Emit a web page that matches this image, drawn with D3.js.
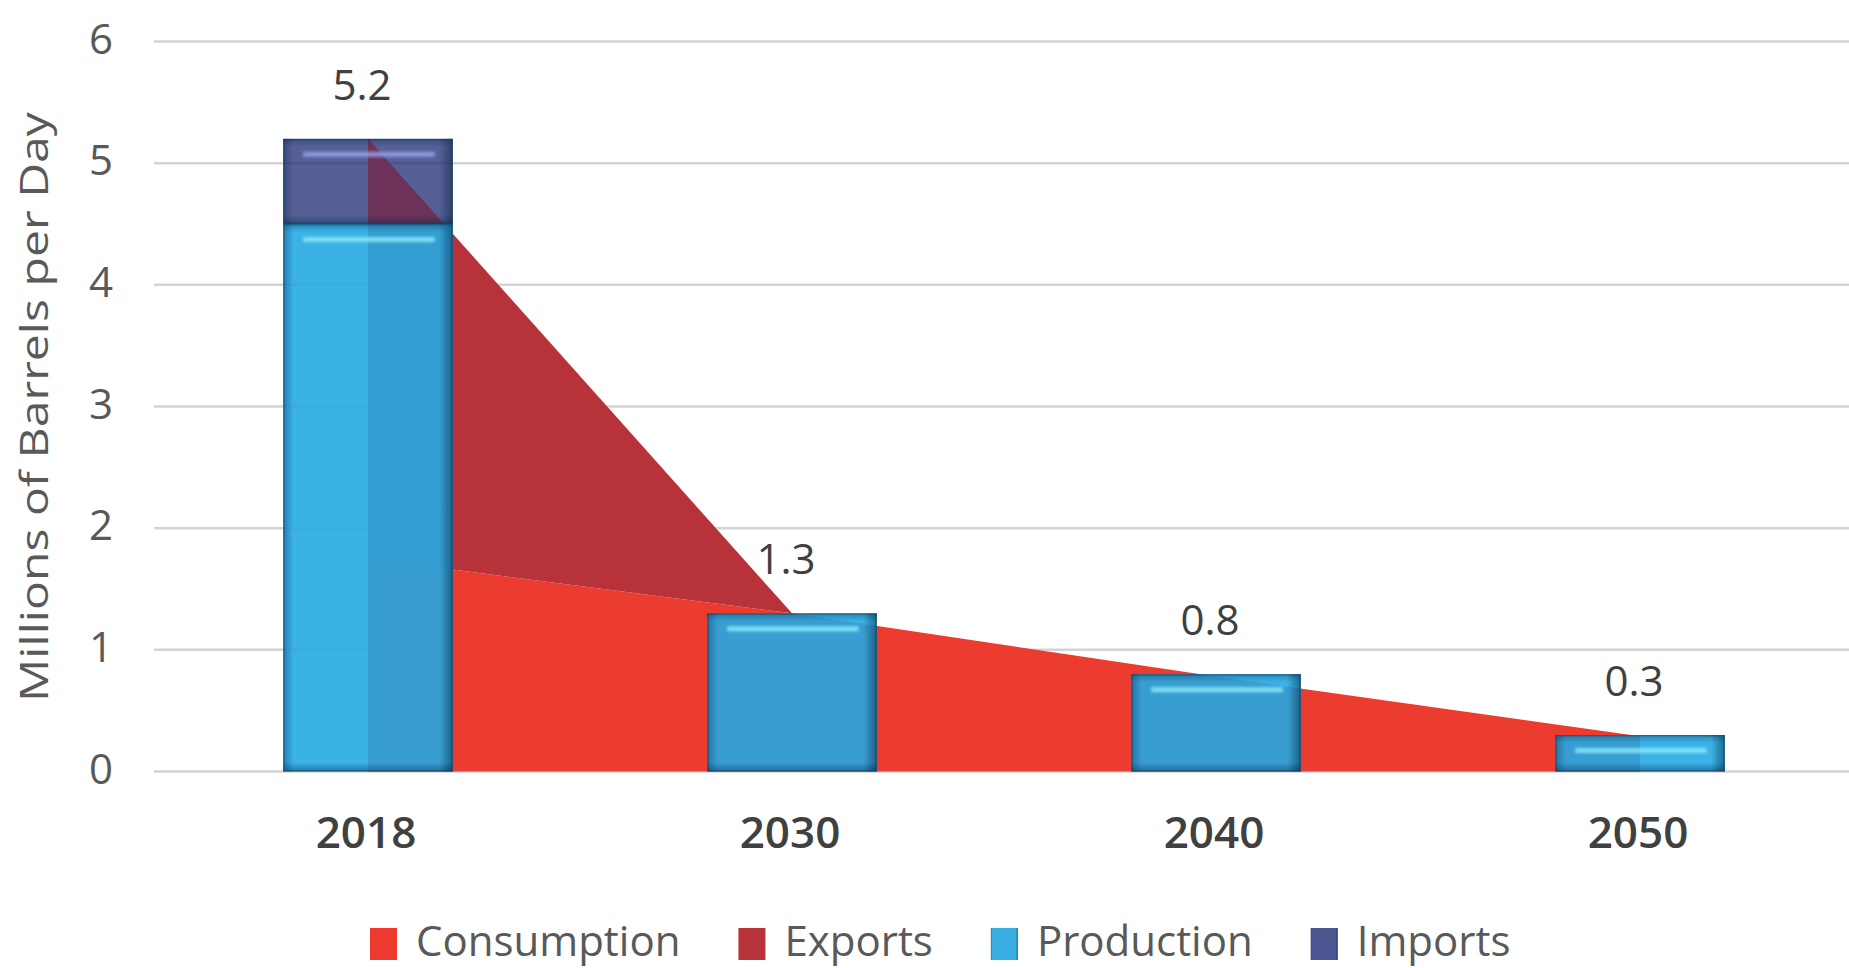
<!DOCTYPE html>
<html><head><meta charset="utf-8">
<script src="https://cdn.jsdelivr.net/npm/d3@7/dist/d3.min.js"></script>
<style>
html,body{margin:0;padding:0;background:#fff;}
svg{display:block;}
text{font-family:"Open Sans",sans-serif;}
</style>
</head><body>
<svg id="chart" width="1849" height="968"></svg>
<script>
// ---- data ----
const categories = ["2018", "2030", "2040", "2050"];
const consumption = [1.75, 1.3, 0.78, 0.29];
const exportsVals = [3.45, 0, 0, 0];
const production = [4.5, 1.3, 0.8, 0.3];
const imports = [0.7, 0, 0, 0];
const totalLabels = ["5.2", "1.3", "0.8", "0.3"];
const yTicks = [0, 1, 2, 3, 4, 5, 6];
const seriesNames = ["Consumption", "Exports", "Production", "Imports"];
const yTitle = "Millions of Barrels per Day";

// ---- styles ----
const colors = {Consumption: "#ec3b2f", Exports: "#b8323a", Production: "#25aae3", Imports: "#27337a"};

const svg = d3.select("#chart");
const W = 1849, H = 968;

const x = d3.scaleBand().domain(categories).range([156, 1852]).paddingInner(0.6).paddingOuter(0.3);
const y = d3.scaleLinear().domain([0, 6]).range([771.5, 41.5]);
const bw = x.bandwidth();
const cx = c => x(c) + bw / 2;

const defs = svg.append("defs");
function grad(id, x2, y2, stops) {
  const g = defs.append("linearGradient").attr("id", id)
    .attr("x1", 0).attr("y1", 0).attr("x2", x2).attr("y2", y2);
  stops.forEach(s => g.append("stop").attr("offset", s[0]).attr("stop-color", s[1]).attr("stop-opacity", s[2]));
}
grad("edgeH", 1, 0, [["0%", "#00203c", 0.35], ["6%", "#00203c", 0], ["92%", "#00203c", 0], ["100%", "#00203c", 0.5]]);
grad("edgeV", 0, 1, [["0%", "#00203c", 0], ["100%", "#00203c", 0.4]]);
grad("edgeT", 0, 1, [["0%", "#00203c", 0.3], ["100%", "#00203c", 0]]);
defs.append("filter").attr("id", "soft")
  .attr("x", "-10%").attr("y", "-200%").attr("width", "120%").attr("height", "500%")
  .append("feGaussianBlur").attr("stdDeviation", 1.4);

// gridlines
svg.append("g").selectAll("line").data(yTicks).join("line")
  .attr("x1", 154).attr("x2", W)
  .attr("y1", d => y(d)).attr("y2", d => y(d))
  .attr("stroke", "#d3d3d3").attr("stroke-width", 2.5);

// stacked areas
const rows = categories.map((c, i) => ({cat: c, Consumption: consumption[i], Exports: exportsVals[i]}));
const areaStack = d3.stack().keys(["Consumption", "Exports"])(rows);
const area = d3.area().x(d => cx(d.data.cat)).y0(d => y(d[0])).y1(d => y(d[1]));
svg.append("g").selectAll("path").data(areaStack).join("path")
  .attr("d", area).attr("fill", d => colors[d.key]);

// stacked bars
const barRows = categories.map((c, i) => ({cat: c, Production: production[i], Imports: imports[i]}));
const barStack = d3.stack().keys(["Production", "Imports"])(barRows);

const light = {Production: "#86e4f8", Imports: "#8f9fe4"};
const opac = {Production: 0.9, Imports: 0.78};
const clip = defs.append("clipPath").attr("id", "impClip");

barStack.forEach(s => {
  const g = svg.append("g");
  s.forEach(d => {
    const v = d[1] - d[0];
    if (v <= 0) return;
    const x0 = x(d.data.cat), y0 = y(d[1]), h = y(d[0]) - y(d[1]);
    g.append("rect").attr("x", x0).attr("y", y0).attr("width", bw).attr("height", h)
      .attr("fill", colors[s.key]).attr("fill-opacity", opac[s.key]);
    if (s.key === "Imports") clip.append("rect").attr("x", x0).attr("y", y0).attr("width", bw).attr("height", h);
  });
});

// exports tint showing through the imports bar
svg.append("g").attr("clip-path", "url(#impClip)")
  .append("path").datum(areaStack[1]).attr("d", area)
  .attr("fill", colors.Exports).attr("fill-opacity", 0.35);

// bevel effects
barStack.forEach(s => {
  const g = svg.append("g");
  s.forEach(d => {
    const v = d[1] - d[0];
    if (v <= 0) return;
    const x0 = x(d.data.cat), y0 = y(d[1]), h = y(d[0]) - y(d[1]);
    g.append("rect").attr("x", x0).attr("y", y0).attr("width", bw).attr("height", h).attr("fill", "url(#edgeH)");
    const bh = Math.min(9, h / 3);
    g.append("rect").attr("x", x0).attr("y", y0 + h - bh).attr("width", bw).attr("height", bh).attr("fill", "url(#edgeV)");
    g.append("rect").attr("x", x0).attr("y", y0).attr("width", bw).attr("height", Math.min(8, h / 4)).attr("fill", "url(#edgeT)");
    g.append("rect").attr("x", x0 + 20).attr("width", bw - 38)
      .attr("y", y0 + 13).attr("height", 5)
      .attr("fill", light[s.key]).attr("fill-opacity", 0.9)
      .attr("filter", "url(#soft)");
    g.append("rect").attr("x", x0 + 0.75).attr("y", y0 + 0.75).attr("width", bw - 1.5).attr("height", h - 1.5)
      .attr("fill", "none").attr("stroke", "#0d3f66").attr("stroke-opacity", 0.45).attr("stroke-width", 1.5);
  });
});

// data labels
const totals = categories.map((c, i) => production[i] + imports[i]);
svg.append("g").selectAll("text").data(categories).join("text")
  .attr("x", c => cx(c) - 6)
  .attr("y", (c, i) => y(totals[i]) - 39)
  .attr("text-anchor", "middle")
  .attr("font-size", 42).attr("fill", "#404040")
  .text((c, i) => totalLabels[i]);

// y axis
const yAxis = d3.axisLeft(y).tickValues(yTicks).tickSize(0).tickPadding(0).tickFormat(d3.format("d"));
const ya = svg.append("g").attr("transform", "translate(113,0)").call(yAxis);
ya.select(".domain").remove();
ya.selectAll("text").attr("font-size", 42).attr("fill", "#595959")
  .attr("font-family", "'Open Sans',sans-serif").attr("dy", "0.28em");

// x axis
const xAxis = d3.axisBottom(x).tickSize(0).tickPadding(0);
const xa = svg.append("g").attr("transform", "translate(0,848)").call(xAxis);
xa.select(".domain").remove();
xa.selectAll("text").attr("font-size", 44).attr("font-weight", 600).attr("fill", "#404040")
  .attr("font-family", "'Open Sans',sans-serif").attr("dy", 0).attr("y", 0)
  .attr("dx", -2);

// y title
svg.append("text")
  .attr("transform", "translate(48,407) rotate(-90)")
  .attr("text-anchor", "middle")
  .attr("font-size", 38).attr("fill", "#595959")
  .attr("textLength", 590).attr("lengthAdjust", "spacingAndGlyphs")
  .text(yTitle);

// legend
const legendColors = {Consumption: "#ee3a2f", Exports: "#b8323a", Production: "#38aee2", Imports: "#4b5691"};
const lg = svg.append("g");
let lx = 370;
seriesNames.forEach(name => {
  lg.append("rect").attr("x", lx).attr("y", 928).attr("width", 27).attr("height", 32).attr("fill", legendColors[name]);
  if (name === "Production" || name === "Imports") {
    lg.append("rect").attr("x", lx).attr("y", 928).attr("width", 27).attr("height", 32).attr("fill", "url(#edgeH)");
  }
  const t = lg.append("text").attr("x", lx + 46).attr("y", 956)
    .attr("font-size", 42).attr("fill", "#595959").text(name);
  lx += 46 + t.node().getComputedTextLength() + 58;
});
</script>
</body></html>
